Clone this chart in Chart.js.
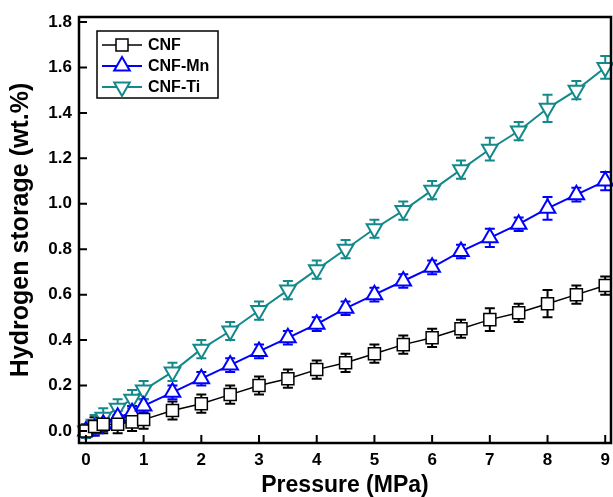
<!DOCTYPE html>
<html>
<head>
<meta charset="utf-8">
<script src="https://cdn.jsdelivr.net/npm/chart.js"></script>
<style>
  html, body { margin: 0; padding: 0; background: #fff; }
  #wrap { width: 613px; height: 497px; }
</style>
</head>
<body>
<div id="wrap"><canvas id="myChart" width="613" height="497"></canvas></div>
<script>
// pressure points (MPa)
const pressure = [0, 0.15, 0.3, 0.55, 0.8, 1, 1.5, 2, 2.5, 3, 3.5, 4, 4.5, 5, 5.5, 6, 6.5, 7, 7.5, 8, 8.5, 9];

// hydrogen storage (wt.%)
const cnf   = [0.00, 0.02, 0.03, 0.03, 0.04, 0.05, 0.09, 0.12, 0.16, 0.20, 0.23, 0.27, 0.30, 0.34, 0.38, 0.41, 0.45, 0.49, 0.52, 0.56, 0.60, 0.64];
const cnfMn = [0.00, 0.01, 0.03, 0.06, 0.08, 0.11, 0.17, 0.23, 0.29, 0.35, 0.41, 0.47, 0.54, 0.60, 0.66, 0.72, 0.79, 0.85, 0.91, 0.98, 1.04, 1.10];
const cnfTi = [0.00, 0.03, 0.06, 0.10, 0.14, 0.18, 0.26, 0.36, 0.44, 0.53, 0.62, 0.71, 0.80, 0.89, 0.97, 1.06, 1.15, 1.24, 1.32, 1.42, 1.50, 1.60];

// error bars (+/-)
const cnfErr   = [0.03, 0.04, 0.04, 0.04, 0.04, 0.04, 0.04, 0.04, 0.04, 0.04, 0.04, 0.04, 0.04, 0.04, 0.04, 0.04, 0.04, 0.05, 0.04, 0.06, 0.04, 0.04];
const cnfMnErr = [0.03, 0.03, 0.03, 0.03, 0.03, 0.03, 0.03, 0.03, 0.03, 0.03, 0.03, 0.03, 0.03, 0.03, 0.03, 0.03, 0.03, 0.04, 0.03, 0.05, 0.03, 0.04];
const cnfTiErr = [0.03, 0.04, 0.04, 0.04, 0.04, 0.04, 0.04, 0.04, 0.04, 0.04, 0.04, 0.04, 0.04, 0.04, 0.04, 0.04, 0.04, 0.05, 0.04, 0.06, 0.04, 0.05];

const xTicks = [0, 1, 2, 3, 4, 5, 6, 7, 8, 9];
const yTicks = [0, 0.2, 0.4, 0.6, 0.8, 1.0, 1.2, 1.4, 1.6, 1.8];

const FONT = 'Arial, "Liberation Sans", sans-serif';

function pts(ys) { return pressure.map((x, i) => ({ x: x, y: ys[i] })); }

const series = [
  { label: 'CNF',    data: cnf,   err: cnfErr,   color: '#000000', style: 'rect',     rot: 0,   r: 8.5, bw: 1.5 },
  { label: 'CNF-Mn', data: cnfMn, err: cnfMnErr, color: '#0000ff', style: 'triangle', rot: 0,   r: 9,   bw: 2 },
  { label: 'CNF-Ti', data: cnfTi, err: cnfTiErr, color: '#13898a', style: 'triangle', rot: 180, r: 9,   bw: 2 }
];

// error bars, drawn under the markers
const errorBars = {
  id: 'errorBars',
  beforeDatasetsDraw(chart) {
    const ctx = chart.ctx, xs = chart.scales.x, ys = chart.scales.y;
    ctx.save();
    series.forEach(s => {
      ctx.strokeStyle = s.color;
      ctx.lineWidth = 2;
      s.data.forEach((v, i) => {
        const px = xs.getPixelForValue(pressure[i]);
        const top = ys.getPixelForValue(v + s.err[i]);
        const bot = ys.getPixelForValue(v - s.err[i]);
        ctx.beginPath();
        ctx.moveTo(px, top); ctx.lineTo(px, bot);
        ctx.moveTo(px - 5, top); ctx.lineTo(px + 5, top);
        ctx.moveTo(px - 5, bot); ctx.lineTo(px + 5, bot);
        ctx.stroke();
      });
    });
    ctx.restore();
  }
};

function marker(ctx, s, x, y) {
  ctx.save();
  ctx.strokeStyle = s.color;
  ctx.fillStyle = '#fff';
  ctx.lineWidth = s.bw;
  ctx.beginPath();
  if (s.style === 'rect') {
    ctx.rect(x - 6, y - 6, 12, 12);
  } else {
    const r = 9, d = s.rot ? -1 : 1;
    ctx.moveTo(x, y - d * r);
    ctx.lineTo(x + r * 0.866, y + d * r * 0.5);
    ctx.lineTo(x - r * 0.866, y + d * r * 0.5);
    ctx.closePath();
  }
  ctx.fill();
  ctx.stroke();
  ctx.restore();
}

// frame, inward ticks and legend box
const frame = {
  id: 'frame',
  afterDraw(chart) {
    const ctx = chart.ctx, a = chart.chartArea, xs = chart.scales.x, ys = chart.scales.y;
    ctx.save();
    ctx.strokeStyle = '#000';
    ctx.lineWidth = 2.5;
    ctx.strokeRect(a.left, a.top, a.right - a.left, a.bottom - a.top);
    ctx.lineWidth = 2;
    ctx.beginPath();
    xTicks.forEach(t => {
      const px = xs.getPixelForValue(t);
      ctx.moveTo(px, a.bottom); ctx.lineTo(px, a.bottom - 8);
    });
    yTicks.forEach(t => {
      const py = ys.getPixelForValue(t);
      ctx.moveTo(a.left, py); ctx.lineTo(a.left + 8, py);
    });
    ctx.stroke();

    // legend
    ctx.lineWidth = 1.5;
    ctx.strokeRect(97, 31, 121, 67);
    ctx.font = 'bold 16px ' + FONT;
    ctx.textBaseline = 'middle';
    series.forEach((s, i) => {
      const y = 45 + i * 21;
      ctx.strokeStyle = s.color;
      ctx.lineWidth = s.bw;
      ctx.beginPath();
      ctx.moveTo(102, y); ctx.lineTo(142, y);
      ctx.stroke();
      marker(ctx, s, 122, y);
      ctx.fillStyle = '#000';
      ctx.fillText(s.label, 148, y + 1);
    });
    ctx.restore();
  }
};

const ctx = document.getElementById('myChart').getContext('2d');
const myChart = new Chart(ctx, {
  type: 'line',
  data: {
    datasets: series.map(s => ({
      label: s.label,
      data: pts(s.data),
      borderColor: s.color,
      borderWidth: s.bw,
      backgroundColor: '#ffffff',
      pointStyle: s.style,
      rotation: s.rot,
      pointRadius: s.r,
      pointBorderWidth: s.bw,
      pointBackgroundColor: '#ffffff',
      pointBorderColor: s.color,
      tension: 0,
      clip: 12
    }))
  },
  options: {
    responsive: false,
    animation: false,
    layout: { autoPadding: false, padding: { top: 17, right: 2, left: 0, bottom: 0 } },
    plugins: { legend: { display: false }, tooltip: { enabled: false } },
    scales: {
      x: {
        type: 'linear',
        min: -0.12, max: 9.1,
        afterBuildTicks: sc => { sc.ticks = xTicks.map(v => ({ value: v })); },
        afterFit: sc => { sc.height = 54; sc.paddingLeft = 0; sc.paddingRight = 0; },
        grid: { display: false, drawTicks: false },
        border: { display: false },
        ticks: { color: '#000', padding: 7, font: { family: FONT, size: 17, weight: 'bold' }, callback: v => String(v) },
        title: { display: true, text: 'Pressure (MPa)', color: '#000', padding: { top: 0, bottom: -2 }, font: { family: FONT, size: 23, weight: 'bold' } }
      },
      y: {
        type: 'linear',
        min: -0.053, max: 1.822,
        afterBuildTicks: sc => { sc.ticks = yTicks.map(v => ({ value: v })); },
        afterFit: sc => { sc.width = 79; sc.paddingTop = 0; sc.paddingBottom = 0; },
        grid: { display: false, drawTicks: false },
        border: { display: false },
        ticks: { color: '#000', padding: 7, font: { family: FONT, size: 17, weight: 'bold' }, callback: v => v.toFixed(1) },
        title: { display: true, text: 'Hydrogen storage (wt.%)', color: '#000', padding: { top: 6, bottom: 0 }, font: { family: FONT, size: 25, weight: 'bold' } }
      }
    }
  },
  plugins: [errorBars, frame]
});
</script>
</body>
</html>
